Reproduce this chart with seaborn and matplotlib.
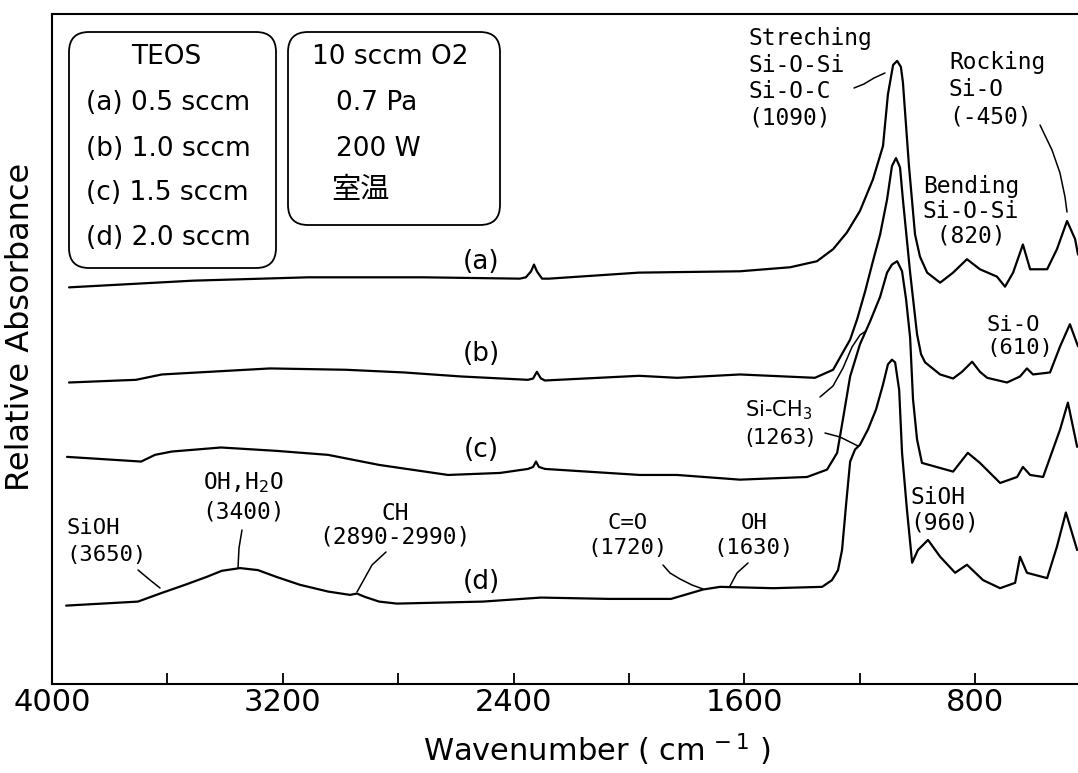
import numpy as np
import pandas as pd
import matplotlib
matplotlib.use("Agg")
import matplotlib.pyplot as plt
from matplotlib.patches import FancyBboxPatch
from matplotlib.lines import Line2D
import seaborn as sns

# FT-IR spectra: wavenumber (cm-1) and relative absorbance (arbitrary units, stacked)
wn_a = [3941, 3511, 3112, 2714, 2378, 2357, 2339, 2329, 2319, 2301, 2277, 1965, 1615,
        1441, 1348, 1292, 1244, 1199, 1154, 1119, 1102, 1084, 1070, 1057, 1050, 1029,
        1008, 991, 966, 921, 876, 828, 783, 724, 696, 668, 634, 609, 550, 516, 481, 453, 443]
abs_a = [59.2, 60.2, 60.7, 60.7, 60.5, 60.7, 61.6, 62.6, 61.6, 60.5, 60.5, 61.4, 61.6,
         62.2, 63.1, 64.9, 67.4, 70.6, 75.3, 80.3, 88.0, 92.4, 93.0, 92.1, 89.8, 77.3,
         67.1, 63.8, 61.4, 59.9, 61.4, 63.4, 61.9, 60.8, 59.3, 61.4, 65.6, 61.9, 61.9,
         64.9, 69.1, 66.4, 64.1]

wn_b = [3941, 3709, 3619, 3244, 2981, 2780, 2582, 2350, 2332, 2319, 2305, 2291, 1965,
        1833, 1615, 1355, 1292, 1258, 1233, 1209, 1181, 1154, 1129, 1105, 1088, 1074,
        1060, 1050, 1025, 1001, 987, 973, 921, 876, 845, 810, 783, 758, 689, 644, 620,
        599, 540, 505, 471, 443]
abs_b = [45.0, 45.4, 46.2, 47.1, 46.9, 46.5, 45.9, 45.4, 45.6, 46.6, 45.6, 45.3, 46.0,
         45.7, 46.2, 45.7, 46.9, 49.5, 51.4, 54.4, 58.6, 63.1, 67.1, 72.3, 77.3, 78.5,
         77.1, 72.3, 61.4, 52.2, 49.2, 48.0, 46.2, 45.6, 46.6, 48.1, 46.6, 45.7, 45.0,
         45.9, 47.1, 46.2, 46.5, 50.4, 53.7, 50.4]

wn_c = [3948, 3691, 3643, 3584, 3414, 3223, 3043, 2866, 2627, 2447, 2350, 2332, 2322,
        2312, 2291, 1962, 1833, 1615, 1382, 1313, 1278, 1258, 1233, 1199, 1164, 1129,
        1105, 1088, 1070, 1053, 1039, 1025, 1015, 1001, 984, 876, 825, 783, 713, 654,
        634, 609, 564, 505, 478, 446]
abs_c = [33.9, 33.2, 34.2, 34.7, 35.3, 34.8, 34.2, 32.7, 31.2, 31.5, 32.1, 32.4, 33.2,
         32.4, 32.1, 31.2, 31.2, 30.5, 30.9, 32.0, 34.5, 39.5, 45.9, 50.7, 54.1, 57.8,
         61.4, 62.6, 63.1, 61.6, 57.4, 51.7, 42.5, 36.5, 33.0, 31.7, 34.5, 33.0, 30.0,
         30.9, 32.4, 31.2, 30.9, 38.0, 42.0, 35.4]

wn_d = [3951, 3702, 3619, 3539, 3463, 3411, 3348, 3286, 3223, 3140, 3043, 2967, 2943,
        2915, 2866, 2804, 2506, 2305, 2069, 1854, 1743, 1684, 1500, 1330, 1296, 1275,
        1261, 1247, 1233, 1216, 1199, 1171, 1143, 1119, 1102, 1088, 1077, 1063, 1053,
        1036, 1018, 998, 963, 921, 869, 828, 772, 713, 661, 644, 620, 550, 516, 485, 446]
abs_d = [11.7, 12.3, 13.6, 14.8, 16.0, 16.9, 17.3, 17.0, 16.0, 14.8, 13.8, 13.3, 13.5,
         13.0, 12.3, 12.0, 12.3, 12.9, 12.7, 12.7, 14.1, 14.5, 14.3, 14.5, 15.5, 17.0,
         20.0, 26.8, 33.2, 35.0, 35.7, 38.0, 41.0, 44.7, 47.7, 48.4, 48.0, 43.9, 34.5,
         26.0, 18.1, 20.0, 21.5, 19.0, 16.6, 17.8, 15.5, 14.3, 15.1, 19.0, 16.6, 15.8,
         20.5, 25.6, 20.0]

samples = ["(a)", "(b)", "(c)", "(d)"]
tick_positions = [4000, 3600, 3200, 2800, 2400, 2000, 1600, 1200, 800]
tick_labels = ["4000", "", "3200", "", "2400", "", "1600", "", "800"]

teos_lines = ["TEOS", "(a) 0.5 sccm", "(b) 1.0 sccm", "(c) 1.5 sccm", "(d) 2.0 sccm"]
cond_lines = ["10 sccm O2", "0.7 Pa", "200 W", "室温"]

sns.set_theme(style="white")
plt.rcParams["font.family"] = ["DejaVu Sans", "Noto Sans CJK JP"]
plt.rcParams["mathtext.fontset"] = "dejavusans"

W, H = 1078, 773
fig = plt.figure(figsize=(W / 100, H / 100), dpi=100)
fig.patch.set_facecolor("white")
ax = fig.add_axes([52 / W, (H - 684) / H, (W - 52) / W, (684 - 14) / H])

frames = []
for name, wn, ab in zip(samples, [wn_a, wn_b, wn_c, wn_d], [abs_a, abs_b, abs_c, abs_d]):
    frames.append(pd.DataFrame({"wavenumber": wn, "absorbance": ab, "sample": name}))
df = pd.concat(frames, ignore_index=True)

sns.lineplot(data=df, x="wavenumber", y="absorbance", hue="sample",
             palette=["black"] * 4, estimator=None, sort=False, legend=False,
             linewidth=1.6, ax=ax)

ax.set_xlim(4000, 443)
ax.set_ylim(0, 100)
ax.set_xlabel("")
ax.set_ylabel("")
ax.set_facecolor("white")
for side in ["left", "bottom", "top"]:
    ax.spines[side].set_visible(True)
    ax.spines[side].set_color("black")
    ax.spines[side].set_linewidth(1.5)
ax.spines["right"].set_visible(False)

ax.set_xticks(tick_positions)
ax.set_xticklabels(tick_labels)
ax.tick_params(axis="x", bottom=True, direction="in", length=8, width=1.3,
               pad=3, labelsize=22, colors="black")
ax.tick_params(axis="y", left=False, labelleft=False)


def put(x, y, s, size, family=None, ha="left", va="center", **kw):
    fam = family if family is not None else ["DejaVu Sans", "Noto Sans CJK JP"]
    fig.text(x / 100, (H - y) / 100, s, transform=fig.dpi_scale_trans,
             fontsize=size, family=fam, ha=ha, va=va, color="black", **kw)


def leader(xs, ys, lw=1.1):
    xs = np.asarray(xs, float) / 100
    ys = (H - np.asarray(ys, float)) / 100
    fig.add_artist(Line2D(xs, ys, transform=fig.dpi_scale_trans, color="black", lw=lw))


def rbox(x0, y0, x1, y1):
    fig.add_artist(FancyBboxPatch((x0 / 100, (H - y1) / 100), (x1 - x0) / 100, (y1 - y0) / 100,
                                  boxstyle="round,pad=0,rounding_size=0.2",
                                  transform=fig.dpi_scale_trans, fill=False,
                                  ec="black", lw=1.3))


# axis titles
put(21, 327, "Relative Absorbance", 23, ha="center", rotation=90)
put(597, 750, "Wavenumber ( cm$^{\\,-1}$ )", 22, ha="center")

# condition boxes
rbox(69, 32, 276, 268)
rbox(288, 32, 500, 225)
put(166, 57, teos_lines[0], 19, ha="center")
for txt, y in zip(teos_lines[1:], [103, 149, 193, 238]):
    put(86, y, txt, 19)
put(312, 57, cond_lines[0], 19)
put(336, 103, cond_lines[1], 19)
put(336, 149, cond_lines[2], 19)
put(331, 190, cond_lines[3], 21)

# sample labels
for name, y in zip(samples, [262, 354, 450, 582]):
    put(481, y, name, 19, ha="center")

mono = ["DejaVu Sans Mono"]
# band assignments
for txt, y in zip(["Streching", "Si-O-Si", "Si-O-C", "(1090)"], [38, 66, 91, 118]):
    put(748, y, txt, 16.5, family=mono)
leader([854, 864, 874, 885], [88, 84, 78, 73])

for txt, y in zip(["Rocking", "Si-O", "(-450)"], [63, 89, 117]):
    put(949, y, txt, 16.5, family=mono)
leader([1040, 1052, 1060, 1065, 1067], [125, 150, 173, 197, 212])

for txt, y in zip(["Bending", "Si-O-Si", " (820)"], [187, 212, 236]):
    put(923, y, txt, 16.5, family=mono)

for txt, y in zip(["Si-O", "(610)"], [325, 348]):
    put(986, y, txt, 16, family=mono)

for txt, y in zip(["Si-CH$_3$", "(1263)"], [410, 438]):
    put(745, y, txt, 15)
leader([820, 833, 843, 852, 860, 866], [397, 386, 368, 347, 335, 331])
leader([825, 840, 850, 858], [433, 437, 442, 446])

for txt, y in zip(["SiOH", "(960)"], [498, 523]):
    put(910, y, txt, 16.5, family=mono)

for txt, y in zip(["SiOH", "(3650)"], [528, 555]):
    put(66, y, txt, 16, family=mono)
leader([138, 150, 160], [570, 580, 588])

for txt, y in zip(["OH,H$_2$O", "(3400)"], [483, 512]):
    put(243, y, txt, 16.5, family=mono, ha="center")
leader([242, 239, 238], [530, 548, 568])

for txt, y in zip(["CH", "(2890-2990)"], [513, 537]):
    put(395, y, txt, 16.5, family=mono, ha="center")
leader([386, 372, 357], [552, 565, 592])

for txt, y in zip(["C=O", "(1720)"], [523, 548]):
    put(628, y, txt, 16, family=mono, ha="center")
leader([663, 670, 680, 692, 703], [565, 573, 579, 585, 589])

for txt, y in zip(["OH", "(1630)"], [523, 548]):
    put(754, y, txt, 16, family=mono, ha="center")
leader([748, 737, 730], [563, 573, 586])

fig.savefig("out.png", dpi=100, facecolor="white")
